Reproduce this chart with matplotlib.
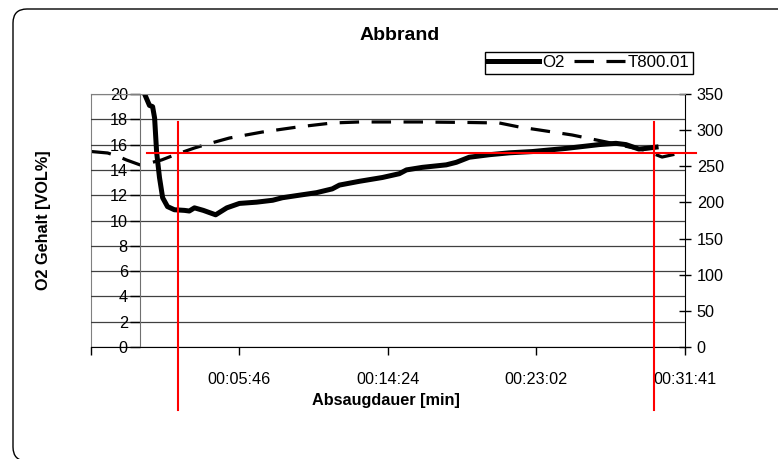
import matplotlib
matplotlib.use("Agg")
import matplotlib.pyplot as plt
from matplotlib.patches import FancyBboxPatch
from matplotlib.transforms import IdentityTransform
from matplotlib.ticker import FuncFormatter

plt.rcParams['font.family'] = 'Liberation Sans'
plt.rcParams['lines.scale_dashes'] = False

### O2 content [VOL%] over extraction time [s]
o2_time = [1, 15, 32, 43, 50, 57, 67, 78, 95, 119, 154, 171, 189, 220, 263, 302,
           346, 406, 462, 496, 555, 615, 670, 695, 765, 845, 904, 929, 984,
           1068, 1103, 1148, 1218, 1288, 1368, 1486, 1601, 1660, 1695, 1740,
           1765, 1800]
o2_value = [21.0, 20.0, 19.1, 19.0, 18.1, 15.4, 13.4, 11.8, 11.1, 10.85, 10.8,
            10.75, 11.0, 10.8, 10.45, 11.0, 11.35, 11.45, 11.6, 11.8, 12.0,
            12.2, 12.5, 12.8, 13.1, 13.4, 13.7, 14.0, 14.2, 14.4, 14.6, 15.0,
            15.2, 15.35, 15.45, 15.7, 16.0, 16.1, 16.0, 15.65, 15.7, 15.8]

### temperature T800.01 over time [s]
temp_time = [-170, -114, -80, -48, 0, 32, 74, 119, 189, 235, 311, 426, 548,
             670, 765, 974, 1148, 1253, 1323, 1393, 1507, 1626, 1706, 1758,
             1800, 1821, 1870]
temp_value = [270.4, 268.4, 264.2, 258.7, 251.8, 254.5, 258.7, 265.6, 275.3,
              280.8, 289.1, 297.4, 304.3, 309.9, 311.3, 311.3, 310.6, 309.9,
              304.3, 300.2, 293.3, 283.6, 276.7, 272.5, 266.0, 262.8, 267.0]

### red marker lines
red_level = 15.33
red_level_span = [25, 1940]
red_times = [133, 1794]
red_time_span = [-5.0, 17.8]

x_ticks = [-172, 346, 864, 1382, 1901]


def hms(sec, pos=None):
    if sec < 0:
        return ''
    sec = int(round(sec))
    return '%02d:%02d:%02d' % (sec // 3600, (sec % 3600) // 60, sec % 60)


fig = plt.figure(figsize=(7.78, 4.59), dpi=100)
ax = fig.add_axes([91 / 778, 1 - 347 / 459, 594 / 778, 253 / 459])
ax2 = ax.twinx()
ax.set_zorder(ax2.get_zorder() + 1)
ax.patch.set_visible(False)

fs = 11.7

# temperature (right axis)
ax2.plot(temp_time, temp_value, color='black', lw=2.3, dashes=(14, 9),
         label='T800.01')
ax2.set_ylim(0, 350)
ax2.set_yticks(range(0, 351, 50))
ax2.tick_params(axis='y', direction='inout', length=9, width=1, pad=4,
                labelsize=fs)
for s in ['top', 'bottom']:
    ax2.spines[s].set_visible(False)
ax2.spines['right'].set_color('black')
ax2.spines['left'].set_color('#808080')

# O2 (left axis)
ax.plot(o2_time, o2_value, color='black', lw=3.6, solid_joinstyle='round',
        label='O2')
ax.set_xlim(x_ticks[0], x_ticks[-1])
ax.set_ylim(0, 20)
ax.set_yticks(range(0, 21, 2))
ax.yaxis.grid(True, color='#404040', lw=0.9)
ax.set_axisbelow(True)
ax.spines['left'].set_position(('data', 0))
ax.spines['left'].set_color('#707070')
ax.spines['right'].set_visible(False)
ax.spines['top'].set_color('#808080')
ax.spines['bottom'].set_color('black')
ax.tick_params(axis='y', direction='out', length=7, width=1, pad=2,
               labelsize=fs)
ax.set_xticks(x_ticks)
ax.xaxis.set_major_formatter(FuncFormatter(hms))
ax.tick_params(axis='x', direction='out', length=6, width=1, pad=12,
               labelsize=fs)

# red marker lines
ax.plot(red_level_span, [red_level, red_level], color='red', lw=1.5,
        clip_on=False, zorder=5)
for t in red_times:
    ax.plot([t, t], red_time_span, color='red', lw=1.5, clip_on=False,
            zorder=5)

# labels
fig.text(400 / 778, 1 - 35 / 459, 'Abbrand', ha='center', va='center',
         fontsize=14, fontweight='bold')
fig.text(386 / 778, 1 - 400 / 459, 'Absaugdauer [min]', ha='center',
         va='center', fontsize=fs, fontweight='bold')
fig.text(44 / 778, 1 - 220 / 459, 'O2 Gehalt [VOL%]', ha='center',
         va='center', rotation=90, fontsize=fs, fontweight='bold')

h1, l1 = ax.get_legend_handles_labels()
h2, l2 = ax2.get_legend_handles_labels()
leg = fig.legend(h1 + h2, l1 + l2, loc='upper left',
                 bbox_to_anchor=(485 / 778, 1 - 52 / 459), ncol=2,
                 fontsize=12.2, frameon=True, fancybox=False, framealpha=1,
                 edgecolor='black', handlelength=3.0, handletextpad=0.15,
                 columnspacing=0.6, borderpad=0.2, borderaxespad=0)
leg.get_frame().set_linewidth(1)

# chart area frame
frame = FancyBboxPatch((13, -2), 820, 452,
                       boxstyle='round,pad=0,rounding_size=14',
                       transform=IdentityTransform(), fill=False,
                       edgecolor='black', lw=1)
fig.add_artist(frame)

fig.savefig('out.png', dpi=100)
